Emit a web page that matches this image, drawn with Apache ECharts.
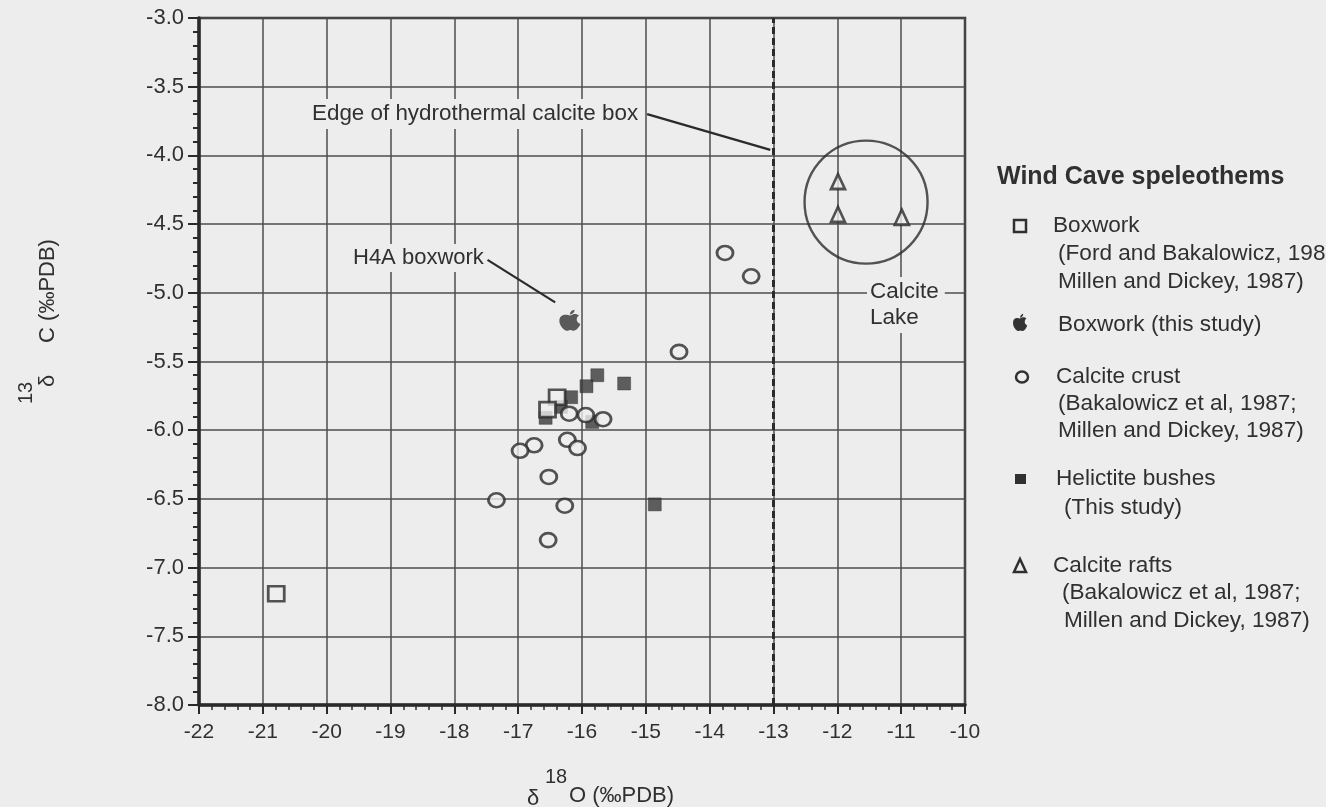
<!DOCTYPE html>
<html><head><meta charset="utf-8">
<script src="https://cdn.jsdelivr.net/npm/echarts@6/dist/echarts.min.js"></script>
<style>html,body{margin:0;padding:0;background:#ededed;}#c{width:1326px;height:807px;}</style>
</head><body><div id="c"></div>
<script>
// ---- data ----
const xTickLabels = ['-22','-21','-20','-19','-18','-17','-16','-15','-14','-13','-12','-11','-10'];
const yTickLabels = ['-8.0','-7.5','-7.0','-6.5','-6.0','-5.5','-5.0','-4.5','-4.0','-3.5','-3.0'];
const boxworkFord = [[-20.79,-7.19],[-16.39,-5.76],[-16.54,-5.85]];
const boxworkThisStudy = [[-16.19,-5.20]];
const calciteCrust = [[-16.20,-5.88],[-15.94,-5.89],[-15.67,-5.92],[-16.23,-6.07],[-16.07,-6.13],
  [-16.75,-6.11],[-16.97,-6.15],[-16.52,-6.34],[-17.34,-6.51],[-16.27,-6.55],[-16.53,-6.80],
  [-14.48,-5.43],[-13.76,-4.71],[-13.35,-4.88]];
const helictiteBushes = [[-15.76,-5.60],[-15.34,-5.66],[-15.93,-5.68],[-16.17,-5.76],[-16.33,-5.83],
  [-16.57,-5.91],[-15.84,-5.94],[-14.86,-6.54]];
const calciteRafts = [[-11.99,-4.19],[-11.99,-4.43],[-10.99,-4.45]];
const calciteLakeCircle = [[-11.55,-4.34]];
const hydrothermalEdge = -13;
const edgeLeader = [[-14.98,-3.70],[-13.05,-3.96]];
const h4aLeader = [[-17.48,-4.76],[-16.42,-5.07]];

// ---- styling ----
const BG = '#ededed', INK = '#303030', GRID = '#4c4c4c';
const FONT = "'Liberation Sans', Arial, Helvetica, sans-serif";
const APPLE = 'M50,28 C44,24 30,22 22,30 C12,40 14,60 22,74 C28,85 36,92 44,90 C47,89 49,87 52,87 C55,87 57,89 61,90 C69,92 76,83 81,74 C84,68 86,63 86,62 C76,58 72,48 74,40 C75,35 78,31 82,28 C76,21 66,20 60,23 C56,25 53,27 50,28 Z M50,24 C50,14 57,6 66,4 C67,14 60,22 50,24 Z';
const APPLE_IMG = 'data:image/svg+xml;utf8,' + encodeURIComponent(
  '<svg xmlns="http://www.w3.org/2000/svg" viewBox="0 0 100 100"><path fill="#333333" d="' + APPLE + '"/></svg>');

const chart = echarts.init(document.getElementById('c'), null, {renderer:'canvas'});

function legendText(x, y, s) { return {type:'text', x, y, z:100, style:{text:s, fill:INK, font:'22.6px ' + FONT, verticalAlign:'middle'}}; }

const graphic = [
  // y axis title
  {type:'text', x:48, y:381, rotation:Math.PI/2, z:100, style:{text:'δ', fill:INK, font:'22px ' + FONT, align:'center', verticalAlign:'middle'}},
  {type:'text', x:26, y:393, rotation:Math.PI/2, z:100, style:{text:'13', fill:INK, font:'20px ' + FONT, align:'center', verticalAlign:'middle'}},
  {type:'text', x:48, y:291, rotation:Math.PI/2, z:100, style:{text:'C (‰PDB)', fill:INK, font:'22px ' + FONT, align:'center', verticalAlign:'middle'}},
  // x axis title
  {type:'text', x:533, y:799, z:100, style:{text:'δ', fill:INK, font:'22px ' + FONT, align:'center', verticalAlign:'middle'}},
  {type:'text', x:556, y:777, z:100, style:{text:'18', fill:INK, font:'20px ' + FONT, align:'center', verticalAlign:'middle'}},
  {type:'text', x:569, y:796, z:100, style:{text:'O (‰PDB)', fill:INK, font:'22px ' + FONT, align:'left', verticalAlign:'middle'}},
  // annotations in plot
  {type:'text', x:309, y:114, z:100, style:{text:'Edge of hydrothermal calcite box', fill:INK, font:'22.4px ' + FONT, verticalAlign:'middle', backgroundColor:BG, padding:[4,3,4,3]}},
  {type:'text', x:351, y:258, z:100, style:{text:'H4A boxwork', fill:INK, font:'22px ' + FONT, verticalAlign:'middle', backgroundColor:BG, padding:[3,2,3,2]}},
  {type:'text', x:867, y:305, z:100, style:{text:'Calcite\nLake', fill:INK, font:'22.5px ' + FONT, verticalAlign:'middle', lineHeight:26, backgroundColor:BG, padding:[2,6,2,3]}},
  // legend
  {type:'text', x:997, y:177, z:100, style:{text:'Wind Cave speleothems', fill:INK, font:'bold 25px ' + FONT, verticalAlign:'middle'}},
  {type:'rect', z:100, shape:{x:1014, y:220, width:12, height:12}, style:{fill:'none', stroke:INK, lineWidth:2.5}},
  legendText(1053, 226, 'Boxwork'),
  legendText(1058, 254, '(Ford and Bakalowicz, 1987;'),
  legendText(1058, 282, 'Millen and Dickey, 1987)'),
  {type:'image', z:100, style:{image:APPLE_IMG, x:1010, y:313, width:20, height:20}},
  legendText(1058, 325, 'Boxwork (this study)'),
  {type:'circle', z:100, x:1022, y:377, scaleY:0.92, shape:{cx:0, cy:0, r:6}, style:{fill:'none', stroke:INK, lineWidth:2.5}},
  legendText(1056, 377, 'Calcite crust'),
  legendText(1058, 404, '(Bakalowicz et al, 1987;'),
  legendText(1058, 431, 'Millen and Dickey, 1987)'),
  {type:'rect', z:100, shape:{x:1015, y:474, width:11, height:10}, style:{fill:INK}},
  legendText(1056, 479, 'Helictite bushes'),
  legendText(1064, 508, '(This study)'),
  {type:'polygon', z:100, shape:{points:[[1020,559],[1026,572],[1014,572]]}, style:{fill:'none', stroke:INK, lineWidth:2.5}},
  legendText(1053, 566, 'Calcite rafts'),
  legendText(1062, 593, '(Bakalowicz et al, 1987;'),
  legendText(1064, 621, 'Millen and Dickey, 1987)')
];

const option = {
  backgroundColor: BG,
  animation: false,
  textStyle: {fontFamily: FONT},
  grid: {left:199, top:18, width:766, height:687, show:true, borderColor:'#333', borderWidth:2.5, backgroundColor:'transparent'},
  xAxis: {
    type:'value', min:-22, max:-10, interval:1,
    axisLine:{show:true, onZero:false, lineStyle:{color:'#2a2a2a', width:3.5}},
    axisTick:{show:true, length:9, lineStyle:{color:'#2a2a2a', width:2}},
    minorTick:{show:true, splitNumber:5, length:5, lineStyle:{color:'#2a2a2a', width:1.5}},
    splitLine:{show:true, lineStyle:{color:GRID, width:1.5}},
    axisLabel:{fontSize:21, color:INK, margin:17, fontFamily:FONT,
      formatter: v => xTickLabels[Math.round(v + 22)]}
  },
  yAxis: {
    type:'value', min:-8, max:-3, interval:0.5,
    axisLine:{show:true, onZero:false, lineStyle:{color:'#2a2a2a', width:3.5}},
    axisTick:{show:true, length:11, lineStyle:{color:'#2a2a2a', width:2}},
    minorTick:{show:true, splitNumber:5, length:6, lineStyle:{color:'#2a2a2a', width:2}},
    splitLine:{show:true, lineStyle:{color:GRID, width:1.5}},
    axisLabel:{fontSize:22, color:INK, margin:15, fontFamily:FONT,
      formatter: v => yTickLabels[Math.round((v + 8) / 0.5)]}
  },
  graphic: graphic,
  series: [
    {type:'scatter', name:'Calcite Lake', data:calciteLakeCircle, symbol:'circle', symbolSize:123, silent:true, z:2,
      itemStyle:{color:'rgba(0,0,0,0)', borderColor:'#2a2a2a', borderWidth:2.4},
      markLine:{silent:true, symbol:'none', label:{show:false},
        lineStyle:{color:'#2a2a2a', width:3, type:[7,4]},
        data:[{xAxis:hydrothermalEdge}]}},
    {type:'line', data:edgeLeader, symbol:'none', z:3, lineStyle:{color:'#2a2a2a', width:2.2}},
    {type:'line', data:h4aLeader, symbol:'none', z:3, lineStyle:{color:'#2a2a2a', width:2.2}},
    {type:'scatter', name:'Helictite bushes', data:helictiteBushes, symbol:'rect', symbolSize:13, z:4,
      itemStyle:{color:'#383838', borderColor:'#303030', borderWidth:0.5}},
    {type:'scatter', name:'Boxwork', data:boxworkFord, symbol:'rect', symbolSize:[16,15], z:5,
      itemStyle:{color:BG, borderColor:'#2a2a2a', borderWidth:2.7}},
    {type:'scatter', name:'Calcite crust', data:calciteCrust, symbol:'circle', symbolSize:[16,14], z:6,
      itemStyle:{color:BG, borderColor:'#2a2a2a', borderWidth:2.7}},
    {type:'scatter', name:'Boxwork (this study)', data:boxworkThisStudy, symbol:'path://' + APPLE, symbolSize:21, z:6,
      itemStyle:{color:'#353535'}},
    {type:'scatter', name:'Calcite rafts', data:calciteRafts, symbol:'triangle', symbolSize:[14,15], z:6,
      itemStyle:{color:BG, borderColor:'#2a2a2a', borderWidth:2.7}}
  ]
};
chart.setOption(option);
</script></body></html>
